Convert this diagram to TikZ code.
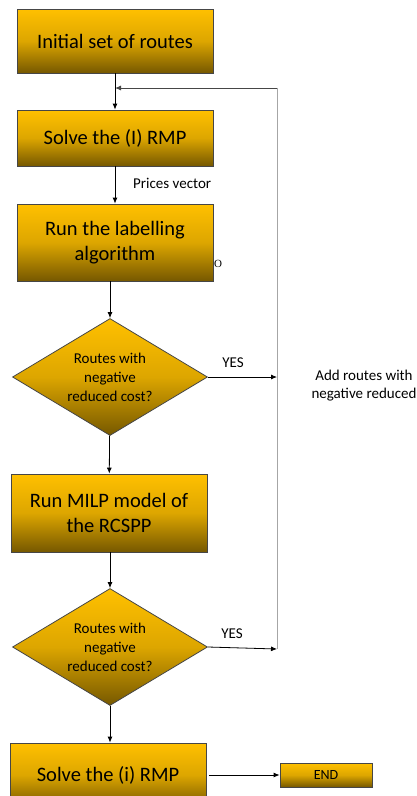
\documentclass[tikz,border=0pt]{standalone}
\usepackage{fontspec}
\setmainfont{Carlito}
\newfontfamily\serifmark{Liberation Serif}
\usetikzlibrary{shapes.geometric,arrows.meta}
\definecolor{gold}{RGB}{255,192,0}
\definecolor{olive}{RGB}{118,88,0}
\definecolor{rim}{RGB}{70,70,70}
\tikzset{
  stepbox/.style={draw=rim,line width=0.8pt,top color=gold,bottom color=olive,
    middle color=gold!75!olive,minimum width=196pt,align=center,inner sep=0pt,
    font=\fontsize{20.5}{25}\selectfont},
  lowtext/.style={execute at begin node={\vspace*{10pt}}},
  testbox/.style={draw=rim,line width=0.8pt,diamond,top color=gold,bottom color=olive,
    middle color=gold!75!olive,minimum width=195pt,minimum height=117pt,aspect=1.67,
    inner sep=0pt,align=center,font=\fontsize{15}{19}\selectfont},
  note/.style={font=\fontsize{15}{18}\selectfont,inner sep=0pt},
}
\begin{document}
\begin{tikzpicture}[>={Latex[length=6pt,width=5pt]},x=1pt,y=-1pt]
	\useasboundingbox (0,0) rectangle (417,796);
	\node[stepbox,minimum height=64pt] (init) at (115,41) {Initial set of routes};
	\node[stepbox,minimum height=56pt] (rmp) at (115,138) {Solve the (I) RMP};
	\node[stepbox,lowtext,minimum height=77pt] (label) at (115,242.5) {Run the labelling\\algorithm};
	\node[testbox] (test1) at (110,377) {Routes with\\negative\\reduced cost?};
	\node[stepbox,lowtext,minimum height=78pt] (milp) at (109,513) {Run MILP model of\\the RCSPP};
	\node[testbox] (test2) at (110,647) {Routes with\\negative\\reduced cost?};
	\node[stepbox,minimum height=64pt] (final) at (108,775) {Solve the (i) RMP};
	\node[stepbox,minimum width=92pt,minimum height=24pt,font=\fontsize{14}{16}\selectfont] (done) at (326,775) {END};
	% labels
	\node[note,anchor=west] (prices) at (133,183) {Prices vector};
	\node[note] (yes1) at (233,363) {YES};
	\node[note] (yes2) at (232,634) {YES};
	\node[note,align=center] (add) at (364,386) {Add routes with\\negative reduced};
	\node[inner sep=0pt,font=\serifmark\fontsize{11}{11}\selectfont] (mark) at (218,264) {O};
	% feedback loop
	\coordinate (top) at (277,88);
	\coordinate (join) at (115,88);
	\coordinate (in1) at (277,377);
	\coordinate (in2) at (277,649);
	\draw[gray!70,line width=0.8pt] (in2) -- (top);
	\draw[->,rim,line width=0.9pt] (top) -- (join);
	\draw[->,line width=0.8pt] (test1.east) -- (in1);
	\draw[->,line width=0.8pt] (test2.east) -- (in2);
	% main flow
	\draw[->,line width=0.8pt] (init) -- (rmp);
	\draw[->,line width=0.8pt] (rmp) -- (label);
	\draw[->,line width=0.8pt] (label.south -| test1.north) -- (test1.north);
	\draw[->,line width=0.8pt] (test1) -- (milp);
	\draw[->,line width=0.8pt] (milp.south -| test2.north) -- (test2.north);
	\draw[->,line width=0.8pt] (test2.south) -- (test2.south |- final.north);
	\draw[->,line width=0.8pt] ([xshift=3pt]final.east) -- (done.west);
\end{tikzpicture}
\end{document}
